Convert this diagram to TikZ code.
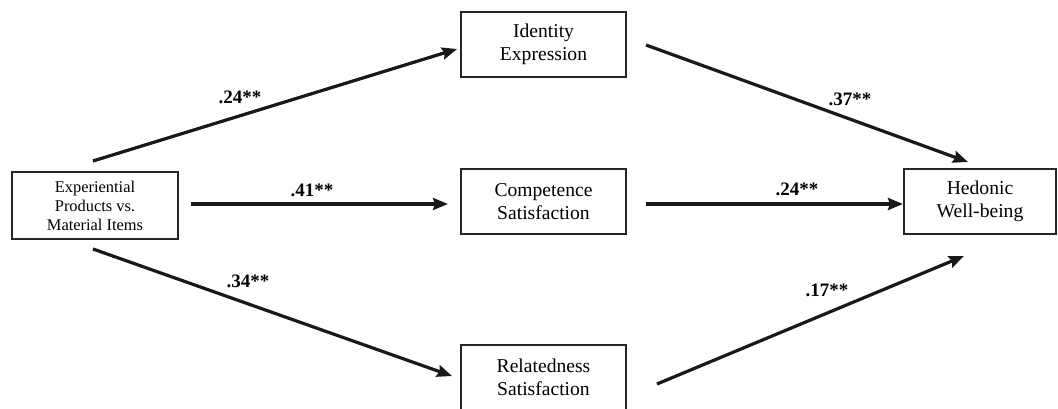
\documentclass[tikz,border=0pt]{standalone}
\usepackage{fontspec}
\setmainfont{Liberation Serif}
\usetikzlibrary{arrows.meta}
\begin{document}
\begin{tikzpicture}[x=1pt,y=-1pt,
  box/.style={draw=black!85,line width=1.1pt,minimum width=165pt,minimum height=65pt,inner sep=0pt,align=center,font=\fontsize{19.6}{23}\selectfont},
  smallbox/.style={box,minimum width=166pt,minimum height=67pt,font=\fontsize{16.4}{19}\selectfont},
  path/.style={line width=3.2pt,draw=black!90,-{Stealth[length=15pt,width=12pt,inset=2pt]}},
  coef/.style={font=\fontsize{19}{22}\selectfont\bfseries,inner sep=0pt}]
\useasboundingbox (0,0) rectangle (1058,409);
\clip (0,0) rectangle (1058,409);
\node[smallbox] (exp) at (95,205.5) {Experiential\\Products vs.\\Material Items};
\node[box] (ident) at (543.5,44.5) {Identity\\Expression};
\node[box] (comp) at (543.5,201.5) {Competence\\Satisfaction};
\node[box] (rel) at (543.5,377.5) {Relatedness\\Satisfaction};
\node[box,minimum width=152pt] (hed) at (980,201.5) {Hedonic\\Well-being};
\coordinate (s1) at (93,161);  \coordinate (e1) at (457,49);
\coordinate (s2) at (191,204); \coordinate (e2) at (448,204);
\coordinate (s3) at (93,249);  \coordinate (e3) at (452,376);
\coordinate (s4) at (646,45);  \coordinate (e4) at (968,162);
\coordinate (s5) at (646,204); \coordinate (e5) at (903,204);
\coordinate (s6) at (657,384); \coordinate (e6) at (964,256);
\draw[path] (s1) -- (e1);
\draw[path] (s2) -- (e2);
\draw[path] (s3) -- (e3);
\draw[path] (s4) -- (e4);
\draw[path] (s5) -- (e5);
\draw[path] (s6) -- (e6);
\node[coef] (c1) at (240,97) {.24**};
\node[coef] (c2) at (312,190) {.41**};
\node[coef] (c3) at (248,281) {.34**};
\node[coef] (c4) at (850,99) {.37**};
\node[coef] (c5) at (797,189) {.24**};
\node[coef] (c6) at (827,290) {.17**};
\end{tikzpicture}
\end{document}
